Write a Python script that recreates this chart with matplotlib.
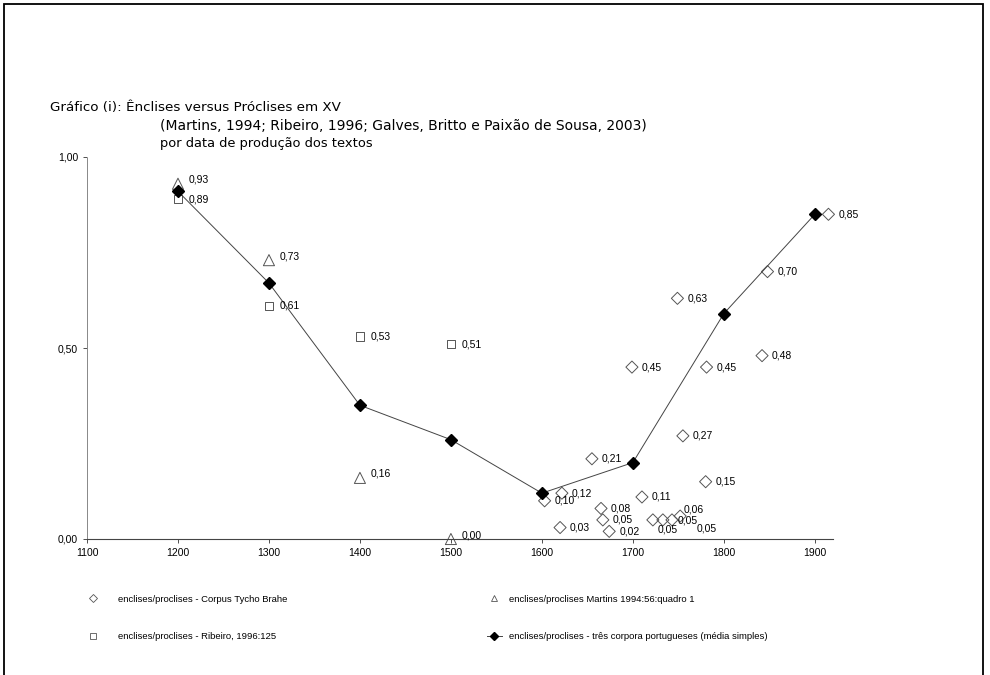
import matplotlib.pyplot as plt
from matplotlib.patches import Rectangle
from matplotlib.lines import Line2D

# Corpus Tycho Brahe (open diamonds)
tycho_years = [1603, 1622, 1620, 1655, 1665, 1667, 1674, 1699, 1710,
               1722, 1733, 1743, 1752, 1749, 1755, 1781, 1780, 1842, 1848, 1915]
tycho_values = [0.10, 0.12, 0.03, 0.21, 0.08, 0.05, 0.02, 0.45, 0.11,
                0.05, 0.05, 0.05, 0.06, 0.63, 0.27, 0.45, 0.15, 0.48, 0.70, 0.85]

# Martins 1994 (triangles)
martins_years = [1200, 1300, 1400, 1500]
martins_values = [0.93, 0.73, 0.16, 0.00]

# Ribeiro 1996 (squares)
ribeiro_years = [1200, 1300, 1400, 1500]
ribeiro_values = [0.89, 0.61, 0.53, 0.51]

# media simples dos tres corpora
media_years = [1200, 1300, 1400, 1500, 1600, 1700, 1800, 1900]
media_values = [0.91, 0.67, 0.35, 0.26, 0.12, 0.20, 0.59, 0.85]

x_ticks = [1100, 1200, 1300, 1400, 1500, 1600, 1700, 1800, 1900]
y_ticks = [0.0, 0.5, 1.0]

# label offsets (pixels) for the crowded points near 1700-1750
tycho_offsets = {9: (5, -10), 10: (15, -1), 11: (25, -9), 12: (3, 7)}

plt.rcParams['font.family'] = ['Liberation Sans', 'DejaVu Sans']

fig = plt.figure(figsize=(9.9, 6.75), dpi=100)
ax = fig.add_axes([87 / 990, 136 / 675, 746 / 990, 382 / 675])

mk_col = '#555555'
ax.plot(media_years, media_values, color='#444444', lw=0.7, marker='D',
        markersize=6.5, markerfacecolor='black', markeredgecolor='black', zorder=3)
ax.scatter(tycho_years, tycho_values, marker='D', s=38, facecolors='none',
           edgecolors=mk_col, linewidths=0.7, zorder=2, clip_on=False)
ax.scatter(martins_years, martins_values, marker='^', s=64, facecolors='none',
           edgecolors=mk_col, linewidths=0.7, zorder=2, clip_on=False)
ax.scatter(ribeiro_years, ribeiro_values, marker='s', s=36, facecolors='none',
           edgecolors=mk_col, linewidths=0.7, zorder=2, clip_on=False)

def label(x, y, off=(10, 0)):
    ax.annotate(f"{y:.2f}".replace('.', ','), (x, y), xytext=off,
                textcoords='offset pixels', ha='left', va='center', fontsize=7.5)

for i, (x, y) in enumerate(zip(tycho_years, tycho_values)):
    label(x, y, tycho_offsets.get(i, (10, 0)))
for x, y in zip(martins_years, martins_values):
    label(x, y, (11, 4))
for x, y in zip(ribeiro_years, ribeiro_values):
    label(x, y, (11, 0))

ax.set_xlim(1100, 1920)
ax.set_ylim(0, 1)
ax.set_xticks(x_ticks)
ax.set_yticks(y_ticks)
ax.set_yticklabels([f"{v:.2f}".replace('.', ',') for v in y_ticks])
ax.tick_params(labelsize=7.5, length=3, width=0.6, colors='#333333', labelcolor='black')
for s in ['top', 'right']:
    ax.spines[s].set_visible(False)
ax.spines['left'].set_color('#888888')
ax.spines['left'].set_linewidth(0.7)
ax.spines['left'].set_linestyle((0, (2, 1)))
ax.spines['bottom'].set_color('#444444')
ax.spines['bottom'].set_linewidth(0.8)

# title
fig.text(50 / 990, 1 - 107 / 675, "Gráfico (i): Ênclises versus Próclises em XV",
         family='DejaVu Sans', fontsize=9.7, va='center')
fig.text(160 / 990, 1 - 126 / 675,
         "(Martins, 1994; Ribeiro, 1996; Galves, Britto e Paixão de Sousa, 2003)",
         family='DejaVu Sans', fontsize=10.0, va='center')
fig.text(160 / 990, 1 - 143 / 675, "por data de produção dos textos",
         family='DejaVu Sans', fontsize=9.4, va='center')

# legend
h_tycho = Line2D([], [], ls='none', marker='D', markersize=4, markerfacecolor='none',
                 markeredgecolor=mk_col, markeredgewidth=0.6)
h_rib = Line2D([], [], ls='none', marker='s', markersize=4, markerfacecolor='none',
               markeredgecolor=mk_col, markeredgewidth=0.6)
h_mar = Line2D([], [], ls='none', marker='^', markersize=5, markerfacecolor='none',
               markeredgecolor=mk_col, markeredgewidth=0.6)
h_med = Line2D([], [], color='#444444', lw=0.7, marker='D', markersize=4,
               markerfacecolor='black', markeredgecolor='black')
leg_kw = dict(frameon=False, fontsize=6.8, handlelength=1.6, handletextpad=1.8,
              labelspacing=3.0, borderaxespad=0, loc='upper left')
leg1 = fig.legend([h_tycho, h_rib],
                  ["enclises/proclises - Corpus Tycho Brahe",
                   "enclises/proclises - Ribeiro, 1996:125"],
                  bbox_to_anchor=(82 / 990, 1 - 591 / 675), **leg_kw)
leg_kw['handletextpad'] = 0.8
leg2 = fig.legend([h_mar, h_med],
                  ["enclises/proclises Martins 1994:56:quadro 1",
                   "enclises/proclises - três corpora portugueses (média simples)"],
                  bbox_to_anchor=(483 / 990, 1 - 591 / 675), **leg_kw)

# outer frame
fig.patches.append(Rectangle((4 / 990, -0.05), 979 / 990, 1.05 - 4 / 675,
                             transform=fig.transFigure, fill=False, lw=1.3,
                             edgecolor='black'))

fig.savefig("out.png", dpi=100)
